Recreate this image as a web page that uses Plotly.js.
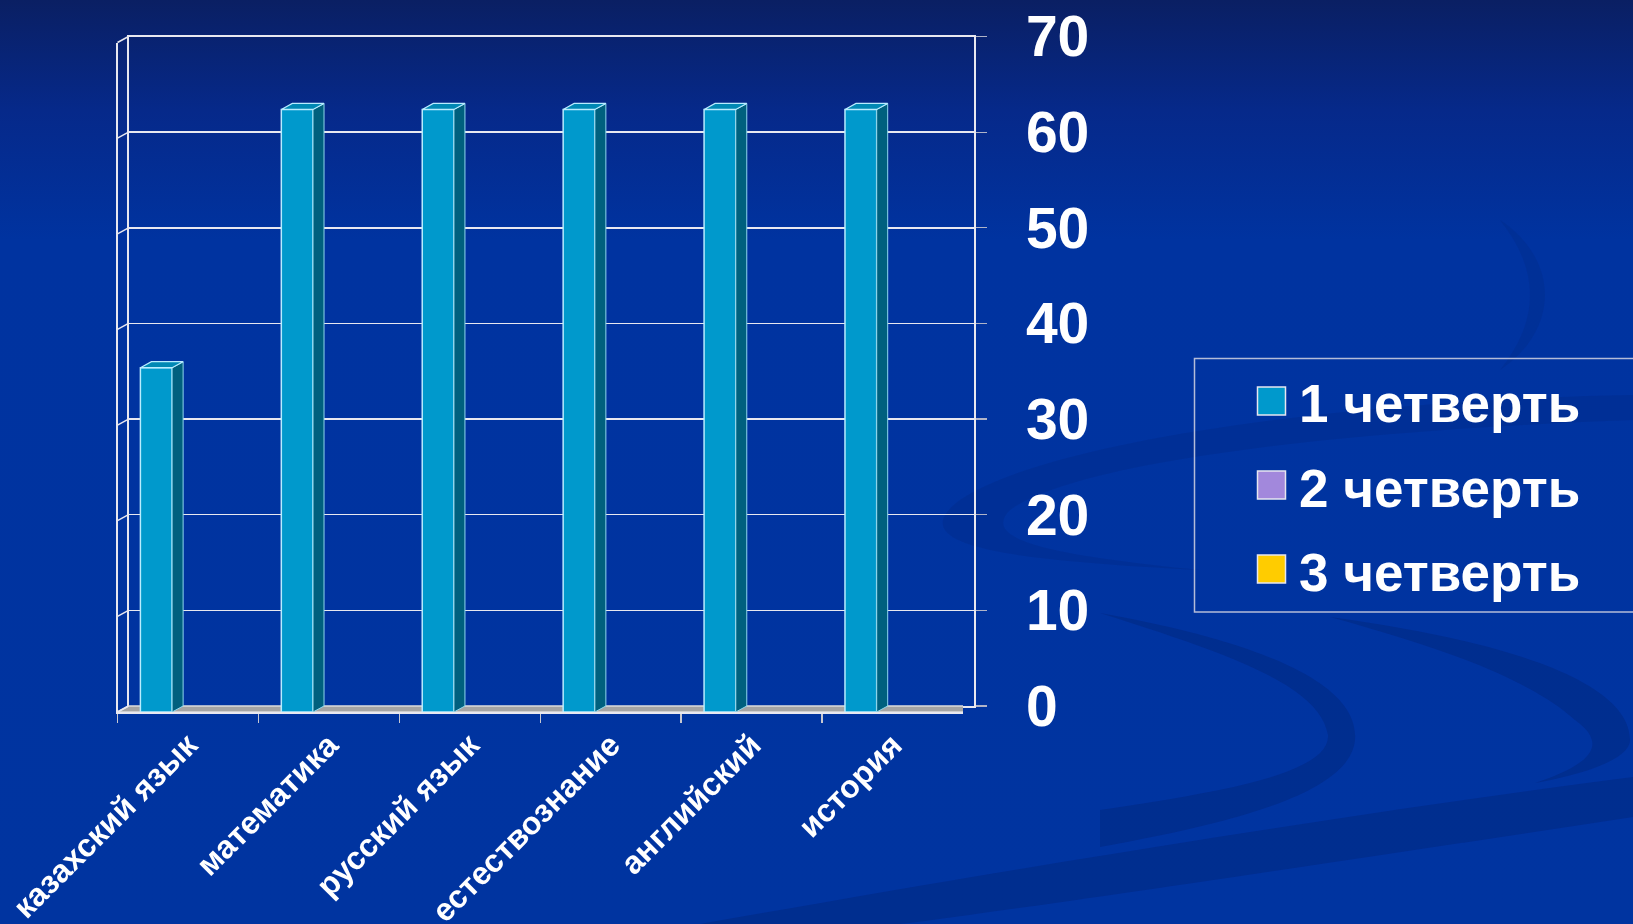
<!DOCTYPE html>
<html>
<head>
<meta charset="utf-8">
<script src="https://cdn.plot.ly/plotly-3.0.1.min.js"></script>
<style>
  html, body { margin: 0; padding: 0; width: 1633px; height: 924px; overflow: hidden; }
  body { background: linear-gradient(180deg, #0a1f63 0%, #06298a 12%, #0033a0 26%, #0034a0 100%); position: relative; }
  #bg { position: absolute; left: 0; top: 0; width: 1633px; height: 924px; }
  #chart { position: absolute; left: 0; top: 0; width: 1633px; height: 924px; }
</style>
</head>
<body>
<svg id="bg" width="1633" height="924" viewBox="0 0 1633 924">
  <g fill="#002d8c" opacity="0.85">
    <path d="M 1633 395 C 1350 400, 1050 440, 960 500 C 900 545, 1000 560, 1200 570 C 1050 555, 980 540, 1010 510 C 1080 460, 1350 430, 1633 420 Z" opacity="0.6"/>
    <path d="M 1100 613 C 1250 640, 1360 680, 1355 740 C 1350 790, 1250 820, 1100 847 L 1100 810 C 1240 790, 1330 770, 1328 735 C 1320 690, 1250 660, 1100 613 Z"/>
    <path d="M 1330 617 C 1500 640, 1630 680, 1630 740 C 1630 760, 1580 775, 1535 783 C 1590 765, 1610 745, 1575 720 C 1530 680, 1450 650, 1330 617 Z"/>
    <path d="M 700 924 C 950 880, 1300 820, 1633 777 L 1633 817 C 1350 860, 1050 905, 900 924 Z"/>
    <path d="M 1500 220 C 1560 260, 1560 330, 1500 370 C 1540 320, 1540 270, 1500 220 Z" opacity="0.5"/>
  </g>
</svg>
<div id="chart"></div>
<script>
// ---- data ----
const categories = ['казахский язык', 'математика', 'русский язык', 'естествознание', 'английский', 'история'];
const quarter1 = [36, 63, 63, 63, 63, 63];
const quarter2 = [0, 0, 0, 0, 0, 0];
const quarter3 = [0, 0, 0, 0, 0, 0];
const seriesNames = ['1 четверть', '2 четверть', '3 четверть'];
const seriesColors = ['#0099cc', '#a288dc', '#ffcc00'];
const yTickVals = [0, 10, 20, 30, 40, 50, 60, 70];

// ---- geometry (pixels of the 1633x924 page) ----
const W = 1633, H = 924;
const FONT = 'Liberation Sans, Arial, sans-serif';
const back = {L: 128.5, R: 974, T: 36.5, B: 706};
const front = {L: 117.5, R: 963, B: 712};
const yMax = 70;
const pxPerUnit = (back.B - back.T) / yMax;
front.T = front.B - yMax * pxPerUnit;
const catPx = (front.R - front.L) / categories.length;
const depthX = (back.L - front.L) / catPx;      // depth in category units
const depthY = (front.B - back.B) / pxPerUnit;  // depth in value units
const bargap = 0.325;
const nSeries = 3;

const px = v => v / W;
const py = v => (H - v) / H;

const allSeries = [quarter1, quarter2, quarter3];
const traces = [{
  // empty trace so that the back-wall subplot (gridlines, value axis) is drawn
  type: 'scatter', mode: 'markers', x: [], y: [], xaxis: 'x', yaxis: 'y',
  showlegend: false, hoverinfo: 'skip'
}].concat(allSeries.map((vals, k) => ({
  type: 'bar',
  x: categories,
  y: vals,
  name: seriesNames[k],
  xaxis: 'x2', yaxis: 'y2',
  showlegend: false,
  marker: {color: seriesColors[k], line: {color: '#b8ecff', width: vals.some(v => v > 0) ? 1.5 : 0}},
  hoverinfo: 'skip'
})));

const shapes = [];
// floor
shapes.push({
  type: 'path', xref: 'x2', yref: 'y2', layer: 'below',
  path: `M -0.5,0 L ${categories.length - 0.5},0 L ${categories.length - 0.5 + depthX},${depthY} L ${-0.5 + depthX},${depthY} Z`,
  fillcolor: '#a4a4a4', line: {color: '#dcdcdc', width: 1.5}
});
// left side-wall stubs
yTickVals.forEach(v => {
  shapes.push({
    type: 'line', xref: 'paper', yref: 'paper',
    x0: px(front.L), y0: py(front.B - v * pxPerUnit),
    x1: px(back.L), y1: py(back.B - v * pxPerUnit),
    line: {color: '#e8e8f0', width: 1.5}
  });
});
// 3D faces of bars
const groupW = 1 - bargap, barW = groupW / nSeries;
allSeries.forEach((vals, k) => {
  vals.forEach((v, i) => {
    if (!(v > 0)) return;
    const l = i - groupW / 2 + k * barW;
    const r = l + barW;
    shapes.push({
      type: 'path', xref: 'x2', yref: 'y2', layer: 'above',
      path: `M ${r},0 L ${r + depthX},${depthY} L ${r + depthX},${v + depthY} L ${r},${v} Z`,
      fillcolor: '#00607e', line: {color: '#8fd8ee', width: 1}
    });
    shapes.push({
      type: 'path', xref: 'x2', yref: 'y2', layer: 'above',
      path: `M ${l},${v} L ${r},${v} L ${r + depthX},${v + depthY} L ${l + depthX},${v + depthY} Z`,
      fillcolor: '#0088b4', line: {color: '#b8ecff', width: 1.2}
    });
  });
});

// custom legend
const legBox = {L: 1194.5, T: 358.5, B: 612};
shapes.push({
  type: 'rect', xref: 'paper', yref: 'paper',
  x0: px(legBox.L), x1: px(W + 20), y0: py(legBox.B), y1: py(legBox.T),
  line: {color: '#b4bcd8', width: 1.5}, fillcolor: 'rgba(0,0,0,0)'
});
const legCenters = [401, 485, 569];
const sq = 28;
const annotations = [];
seriesNames.forEach((nm, k) => {
  const cy = legCenters[k];
  shapes.push({
    type: 'rect', xref: 'paper', yref: 'paper',
    x0: px(1257.5), x1: px(1257.5 + sq), y0: py(cy + sq / 2), y1: py(cy - sq / 2),
    fillcolor: seriesColors[k], line: {color: '#e6e6f0', width: 1.5}
  });
  annotations.push({
    xref: 'paper', yref: 'paper', x: px(1297), y: py(cy + 3),
    xanchor: 'left', yanchor: 'middle', showarrow: false,
    text: nm, font: {family: FONT, size: 53, color: '#ffffff', weight: 'bold'}
  });
});

const layout = {
  width: W, height: H,
  margin: {l: 0, r: 0, t: 0, b: 0},
  paper_bgcolor: 'rgba(0,0,0,0)',
  plot_bgcolor: 'rgba(0,0,0,0)',
  showlegend: false,
  barmode: 'group',
  bargap: bargap,
  bargroupgap: 0,
  font: {family: FONT, color: '#ffffff'},
  xaxis: {
    domain: [px(back.L), px(back.R)], range: [0, 1], type: 'linear',
    showgrid: false, zeroline: false, showticklabels: false, ticks: '',
    showline: true, mirror: true, linecolor: '#e8e8f0', linewidth: 1.5,
    anchor: 'y', fixedrange: true
  },
  yaxis: {
    domain: [py(back.B), py(back.T)], range: [0, yMax], type: 'linear',
    tickmode: 'array', tickvals: yTickVals, side: 'right',
    showgrid: true, gridcolor: '#e8e8f0', gridwidth: 1.5,
    zeroline: false, showline: true, mirror: true, linecolor: '#e8e8f0', linewidth: 1.5,
    ticks: 'outside', ticklen: 11, tickcolor: '#b0b4c8', tickwidth: 1.2,
    ticklabelstandoff: 28,
    tickfont: {family: FONT, size: 57, color: '#ffffff', weight: 'bold'},
    anchor: 'x', fixedrange: true
  },
  xaxis2: {
    domain: [px(front.L), px(front.R)], type: 'category',
    categoryorder: 'array', categoryarray: categories,
    range: [-0.5, categories.length - 0.5],
    showgrid: false, zeroline: false,
    showline: true, linecolor: '#e8e8f0', linewidth: 1.5,
    ticks: 'outside', tickson: 'boundaries', ticklen: 9, tickcolor: '#c8c8d0', tickwidth: 1.5,
    tickangle: -45,
    tickfont: {family: FONT, size: 32, color: '#ffffff', weight: 'bold'},
    anchor: 'y2', fixedrange: true
  },
  yaxis2: {
    domain: [py(front.B), py(front.T)], range: [0, yMax],
    showgrid: false, zeroline: false, showticklabels: false, ticks: '',
    showline: true, linecolor: '#e8e8f0', linewidth: 1.5, side: 'left',
    anchor: 'x2', fixedrange: true
  },
  shapes: shapes,
  annotations: annotations
};

Plotly.newPlot('chart', traces, layout, {displayModeBar: false, staticPlot: true});
</script>
</body>
</html>
